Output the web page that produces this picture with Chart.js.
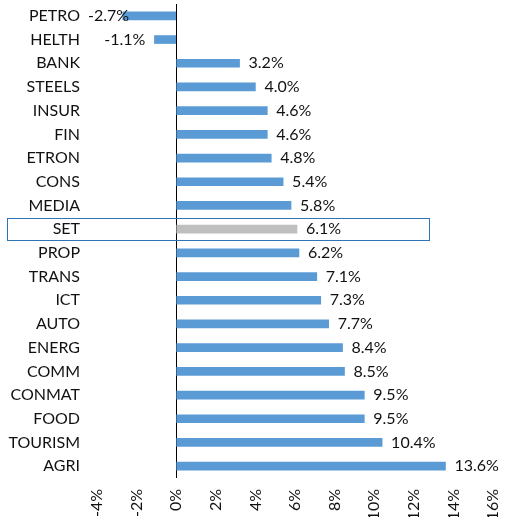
<!DOCTYPE html>
<html>
<head>
<meta charset="utf-8">
<script src="https://cdn.jsdelivr.net/npm/chart.js@4"></script>
<style>
  body { margin: 0; background: #fff; }
  #wrap { width: 511px; height: 517px; }
</style>
</head>
<body>
<div id="wrap"><canvas id="sectorChart"></canvas></div>
<script>
// sector returns, top to bottom
const sectors = ["PETRO", "HELTH", "BANK", "STEELS", "INSUR", "FIN", "ETRON", "CONS", "MEDIA", "SET",
  "PROP", "TRANS", "ICT", "AUTO", "ENERG", "COMM", "CONMAT", "FOOD", "TOURISM", "AGRI"];
const returns = [-2.7, -1.1, 3.2, 4.0, 4.6, 4.6, 4.8, 5.4, 5.8, 6.1,
  6.2, 7.1, 7.3, 7.7, 8.4, 8.5, 9.5, 9.5, 10.4, 13.6];
const xTicks = [-4, -2, 0, 2, 4, 6, 8, 10, 12, 14, 16];
const highlight = "SET";

const FONT = "Lato, 'Open Sans', sans-serif";

const barColors = sectors.map(s => (s === highlight ? "#BFBFBF" : "#5B9BD5"));

// value labels next to each bar
const valueLabels = {
  id: "valueLabels",
  afterDatasetsDraw(chart) {
    const ctx = chart.ctx;
    const meta = chart.getDatasetMeta(0);
    const minLeft = chart.chartArea.left - 9;
    ctx.save();
    ctx.font = "16px " + FONT;
    ctx.fillStyle = "#111";
    ctx.textBaseline = "middle";
    ctx.textAlign = "left";
    meta.data.forEach((bar, i) => {
      const v = returns[i];
      const txt = v.toFixed(1) + "%";
      if (v >= 0) {
        ctx.fillText(txt, bar.x + 9, bar.y);
      } else {
        // keep negative labels inside the plot, like the original
        const w = ctx.measureText(txt).width;
        const left = Math.max(bar.x - 9 - w, minLeft);
        ctx.fillText(txt, left, bar.y);
      }
    });
    ctx.restore();
  }
};

// box around the highlighted row
const highlightBox = {
  id: "highlightBox",
  afterDraw(chart) {
    const idx = sectors.indexOf(highlight);
    if (idx < 0) return;
    const y = chart.scales.y;
    const x = chart.scales.x;
    const cy = y.getPixelForValue(idx);
    const ctx = chart.ctx;
    ctx.save();
    ctx.strokeStyle = "#2E75B6";
    ctx.lineWidth = 1;
    ctx.strokeRect(7.5, Math.round(cy - 11) + 0.5, Math.round(x.getPixelForValue(12.75)) - 7, 22);
    ctx.restore();
  }
};

new Chart(document.getElementById("sectorChart"), {
  type: "bar",
  data: {
    labels: sectors,
    datasets: [{
      data: returns,
      backgroundColor: barColors,
      barThickness: 8
    }]
  },
  options: {
    indexAxis: "y",
    responsive: true,
    maintainAspectRatio: false,
    animation: false,
    layout: { padding: { top: 4, right: 18, left: 0, bottom: 0 } },
    plugins: {
      legend: { display: false },
      tooltip: { enabled: false }
    },
    scales: {
      x: {
        min: -4,
        max: 16,
        afterBuildTicks: scale => { scale.ticks = xTicks.map(v => ({ value: v })); },
        afterFit: scale => {
          scale.height = 39;
          scale.paddingLeft = 0;
          scale.paddingRight = 0;
        },
        border: { display: false },
        grid: {
          drawTicks: false,
          lineWidth: 1,
          color: c => (c.tick && c.tick.value === 0 ? "#000" : "rgba(0,0,0,0)")
        },
        ticks: {
          minRotation: 90,
          maxRotation: 90,
          padding: 11,
          color: "#111",
          font: { family: FONT, size: 16 },
          callback: v => v + "%"
        }
      },
      y: {
        afterFit: scale => {
          scale.width = 97;
          scale.paddingTop = 0;
          scale.paddingBottom = 0;
        },
        border: { display: false },
        grid: { display: false, drawTicks: false },
        ticks: {
          padding: 17,
          color: "#111",
          font: { family: FONT, size: 16 }
        }
      }
    }
  },
  plugins: [valueLabels, highlightBox]
});
</script>
</body>
</html>
